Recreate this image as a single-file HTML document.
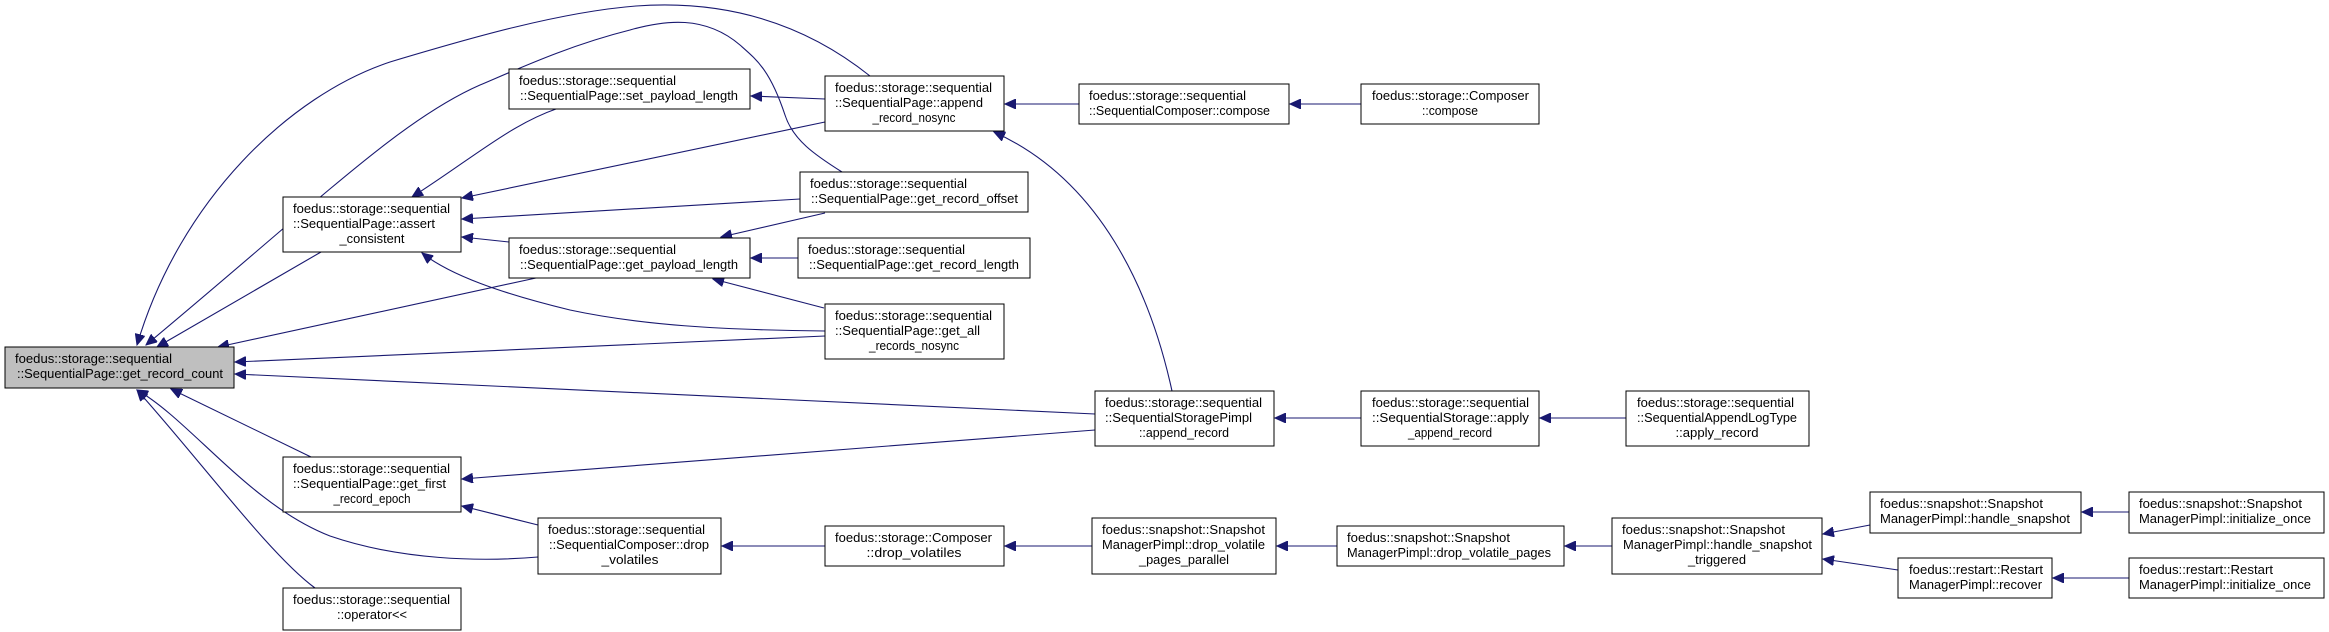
<!DOCTYPE html>
<html><head><meta charset="utf-8"><style>
html,body{margin:0;padding:0;background:#fff;}
svg{display:block;}
text{font-family:"Liberation Sans Narrow","Liberation Sans",sans-serif;font-size:13px;fill:#000;}
rect{stroke:#000;stroke-width:1;fill:#fff;}
path.e{fill:none;stroke:#191970;stroke-width:1.1;}
</style></head><body>
<svg width="2329" height="632" viewBox="0 0 2329 632" xmlns="http://www.w3.org/2000/svg">
<defs>
<marker id="ah" markerWidth="12" markerHeight="10" refX="11" refY="5" orient="auto" markerUnits="userSpaceOnUse">
<path d="M0,0 L11,5 L0,10 Z" fill="#191970" stroke="#191970"/>
</marker>
</defs>
<g marker-end="url(#ah)">
<path class="e" d="M870,76 C800,20 720,0 636,6 C560,12 470,38 390,62 C290,95 180,200 137,345"/>
<path class="e" d="M842,172 C815,155 793,140 785,115 C770,70 757,60 740,45 C705,15 665,20 630,30 C570,45 520,68 480,85 C400,120 320,200 146,345"/>
<path class="e" d="M556,109 C510,125 470,160 412,197"/>
<path class="e" d="M825,99 L751,96"/>
<path class="e" d="M825,122 L462,198"/>
<path class="e" d="M800,199 L462,219"/>
<path class="e" d="M509,242 L462,237"/>
<path class="e" d="M825,213 L721,237"/>
<path class="e" d="M798,258 L751,258"/>
<path class="e" d="M824,308 L713,279"/>
<path class="e" d="M825,331 C720,330 640,325 570,310 C500,293 450,275 422,253"/>
<path class="e" d="M321,252 L157,347"/>
<path class="e" d="M536,278 L218,347"/>
<path class="e" d="M825,336 L235,362"/>
<path class="e" d="M1095,414 L235,374"/>
<path class="e" d="M1095,430 L462,479"/>
<path class="e" d="M1172,391 C1150,290 1100,180 994,132"/>
<path class="e" d="M311,457 L171,389"/>
<path class="e" d="M538,525 L462,506"/>
<path class="e" d="M538,557 C480,562 400,560 330,536 C250,505 190,420 137,390"/>
<path class="e" d="M315,588 C270,555 200,460 137,390"/>
<path class="e" d="M825,546 L722,546"/>
<path class="e" d="M1092,546 L1005,546"/>
<path class="e" d="M1079,104 L1005,104"/>
<path class="e" d="M1361,104 L1290,104"/>
<path class="e" d="M1361,418 L1275,418"/>
<path class="e" d="M1626,418 L1540,418"/>
<path class="e" d="M1337,546 L1277,546"/>
<path class="e" d="M1612,546 L1565,546"/>
<path class="e" d="M1870,525 L1823,534"/>
<path class="e" d="M1898,570 L1823,559"/>
<path class="e" d="M2129,512 L2082,512"/>
<path class="e" d="M2129,578 L2053,578"/>
</g>

<rect x="5" y="347" width="229" height="41" style="fill:#bfbfbf"/>
<text x="15" y="363" textLength="157" lengthAdjust="spacingAndGlyphs">foedus::storage::sequential</text>
<text x="17" y="378" textLength="206" lengthAdjust="spacingAndGlyphs">::SequentialPage::get_record_count</text>
<rect x="283" y="197" width="178" height="55"/>
<text x="293" y="213" textLength="157" lengthAdjust="spacingAndGlyphs">foedus::storage::sequential</text>
<text x="293" y="228" textLength="142" lengthAdjust="spacingAndGlyphs">::SequentialPage::assert</text>
<text x="372" y="243" text-anchor="middle" textLength="65" lengthAdjust="spacingAndGlyphs">_consistent</text>
<rect x="509" y="69" width="241" height="40"/>
<text x="519" y="85" textLength="157" lengthAdjust="spacingAndGlyphs">foedus::storage::sequential</text>
<text x="520" y="100" textLength="218" lengthAdjust="spacingAndGlyphs">::SequentialPage::set_payload_length</text>
<rect x="825" y="76" width="179" height="55"/>
<text x="835" y="92" textLength="157" lengthAdjust="spacingAndGlyphs">foedus::storage::sequential</text>
<text x="835" y="107" textLength="148" lengthAdjust="spacingAndGlyphs">::SequentialPage::append</text>
<text x="914" y="122" text-anchor="middle" textLength="83" lengthAdjust="spacingAndGlyphs">_record_nosync</text>
<rect x="800" y="172" width="228" height="40"/>
<text x="810" y="188" textLength="157" lengthAdjust="spacingAndGlyphs">foedus::storage::sequential</text>
<text x="811" y="203" textLength="207" lengthAdjust="spacingAndGlyphs">::SequentialPage::get_record_offset</text>
<rect x="509" y="238" width="241" height="40"/>
<text x="519" y="254" textLength="157" lengthAdjust="spacingAndGlyphs">foedus::storage::sequential</text>
<text x="520" y="269" textLength="218" lengthAdjust="spacingAndGlyphs">::SequentialPage::get_payload_length</text>
<rect x="798" y="238" width="232" height="40"/>
<text x="808" y="254" textLength="157" lengthAdjust="spacingAndGlyphs">foedus::storage::sequential</text>
<text x="809" y="269" textLength="210" lengthAdjust="spacingAndGlyphs">::SequentialPage::get_record_length</text>
<rect x="825" y="304" width="179" height="55"/>
<text x="835" y="320" textLength="157" lengthAdjust="spacingAndGlyphs">foedus::storage::sequential</text>
<text x="835" y="335" textLength="145" lengthAdjust="spacingAndGlyphs">::SequentialPage::get_all</text>
<text x="914" y="350" text-anchor="middle" textLength="90" lengthAdjust="spacingAndGlyphs">_records_nosync</text>
<rect x="283" y="457" width="178" height="55"/>
<text x="293" y="473" textLength="157" lengthAdjust="spacingAndGlyphs">foedus::storage::sequential</text>
<text x="293" y="488" textLength="153" lengthAdjust="spacingAndGlyphs">::SequentialPage::get_first</text>
<text x="372" y="503" text-anchor="middle" textLength="77" lengthAdjust="spacingAndGlyphs">_record_epoch</text>
<rect x="538" y="518" width="183" height="56"/>
<text x="548" y="534" textLength="157" lengthAdjust="spacingAndGlyphs">foedus::storage::sequential</text>
<text x="549" y="549" textLength="160" lengthAdjust="spacingAndGlyphs">::SequentialComposer::drop</text>
<text x="630" y="564" text-anchor="middle" textLength="57" lengthAdjust="spacingAndGlyphs">_volatiles</text>
<rect x="283" y="588" width="178" height="42"/>
<text x="293" y="604" textLength="157" lengthAdjust="spacingAndGlyphs">foedus::storage::sequential</text>
<text x="372" y="619" text-anchor="middle" textLength="70" lengthAdjust="spacingAndGlyphs">::operator&lt;&lt;</text>
<rect x="825" y="526" width="179" height="40"/>
<text x="835" y="542" textLength="157" lengthAdjust="spacingAndGlyphs">foedus::storage::Composer</text>
<text x="914" y="557" text-anchor="middle" textLength="95" lengthAdjust="spacingAndGlyphs">::drop_volatiles</text>
<rect x="1079" y="84" width="210" height="40"/>
<text x="1089" y="100" textLength="157" lengthAdjust="spacingAndGlyphs">foedus::storage::sequential</text>
<text x="1089" y="115" textLength="181" lengthAdjust="spacingAndGlyphs">::SequentialComposer::compose</text>
<rect x="1361" y="84" width="178" height="40"/>
<text x="1372" y="100" textLength="157" lengthAdjust="spacingAndGlyphs">foedus::storage::Composer</text>
<text x="1450" y="115" text-anchor="middle" textLength="56" lengthAdjust="spacingAndGlyphs">::compose</text>
<rect x="1095" y="391" width="179" height="55"/>
<text x="1105" y="407" textLength="157" lengthAdjust="spacingAndGlyphs">foedus::storage::sequential</text>
<text x="1105" y="422" textLength="147" lengthAdjust="spacingAndGlyphs">::SequentialStoragePimpl</text>
<text x="1184" y="437" text-anchor="middle" textLength="90" lengthAdjust="spacingAndGlyphs">::append_record</text>
<rect x="1361" y="391" width="178" height="55"/>
<text x="1372" y="407" textLength="157" lengthAdjust="spacingAndGlyphs">foedus::storage::sequential</text>
<text x="1372" y="422" textLength="157" lengthAdjust="spacingAndGlyphs">::SequentialStorage::apply</text>
<text x="1450" y="437" text-anchor="middle" textLength="84" lengthAdjust="spacingAndGlyphs">_append_record</text>
<rect x="1626" y="391" width="183" height="55"/>
<text x="1637" y="407" textLength="157" lengthAdjust="spacingAndGlyphs">foedus::storage::sequential</text>
<text x="1637" y="422" textLength="160" lengthAdjust="spacingAndGlyphs">::SequentialAppendLogType</text>
<text x="1717" y="437" text-anchor="middle" textLength="83" lengthAdjust="spacingAndGlyphs">::apply_record</text>
<rect x="1092" y="518" width="184" height="56"/>
<text x="1102" y="534" textLength="163" lengthAdjust="spacingAndGlyphs">foedus::snapshot::Snapshot</text>
<text x="1102" y="549" textLength="163" lengthAdjust="spacingAndGlyphs">ManagerPimpl::drop_volatile</text>
<text x="1184" y="564" text-anchor="middle" textLength="90" lengthAdjust="spacingAndGlyphs">_pages_parallel</text>
<rect x="1337" y="526" width="227" height="40"/>
<text x="1347" y="542" textLength="163" lengthAdjust="spacingAndGlyphs">foedus::snapshot::Snapshot</text>
<text x="1347" y="557" textLength="204" lengthAdjust="spacingAndGlyphs">ManagerPimpl::drop_volatile_pages</text>
<rect x="1612" y="518" width="210" height="56"/>
<text x="1622" y="534" textLength="163" lengthAdjust="spacingAndGlyphs">foedus::snapshot::Snapshot</text>
<text x="1623" y="549" textLength="189" lengthAdjust="spacingAndGlyphs">ManagerPimpl::handle_snapshot</text>
<text x="1717" y="564" text-anchor="middle" textLength="58" lengthAdjust="spacingAndGlyphs">_triggered</text>
<rect x="1870" y="492" width="211" height="41"/>
<text x="1880" y="508" textLength="163" lengthAdjust="spacingAndGlyphs">foedus::snapshot::Snapshot</text>
<text x="1880" y="523" textLength="190" lengthAdjust="spacingAndGlyphs">ManagerPimpl::handle_snapshot</text>
<rect x="2129" y="492" width="195" height="41"/>
<text x="2139" y="508" textLength="163" lengthAdjust="spacingAndGlyphs">foedus::snapshot::Snapshot</text>
<text x="2139" y="523" textLength="172" lengthAdjust="spacingAndGlyphs">ManagerPimpl::initialize_once</text>
<rect x="1898" y="558" width="154" height="40"/>
<text x="1909" y="574" textLength="134" lengthAdjust="spacingAndGlyphs">foedus::restart::Restart</text>
<text x="1909" y="589" textLength="133" lengthAdjust="spacingAndGlyphs">ManagerPimpl::recover</text>
<rect x="2129" y="558" width="195" height="40"/>
<text x="2139" y="574" textLength="134" lengthAdjust="spacingAndGlyphs">foedus::restart::Restart</text>
<text x="2139" y="589" textLength="172" lengthAdjust="spacingAndGlyphs">ManagerPimpl::initialize_once</text>
</svg>
</body></html>
